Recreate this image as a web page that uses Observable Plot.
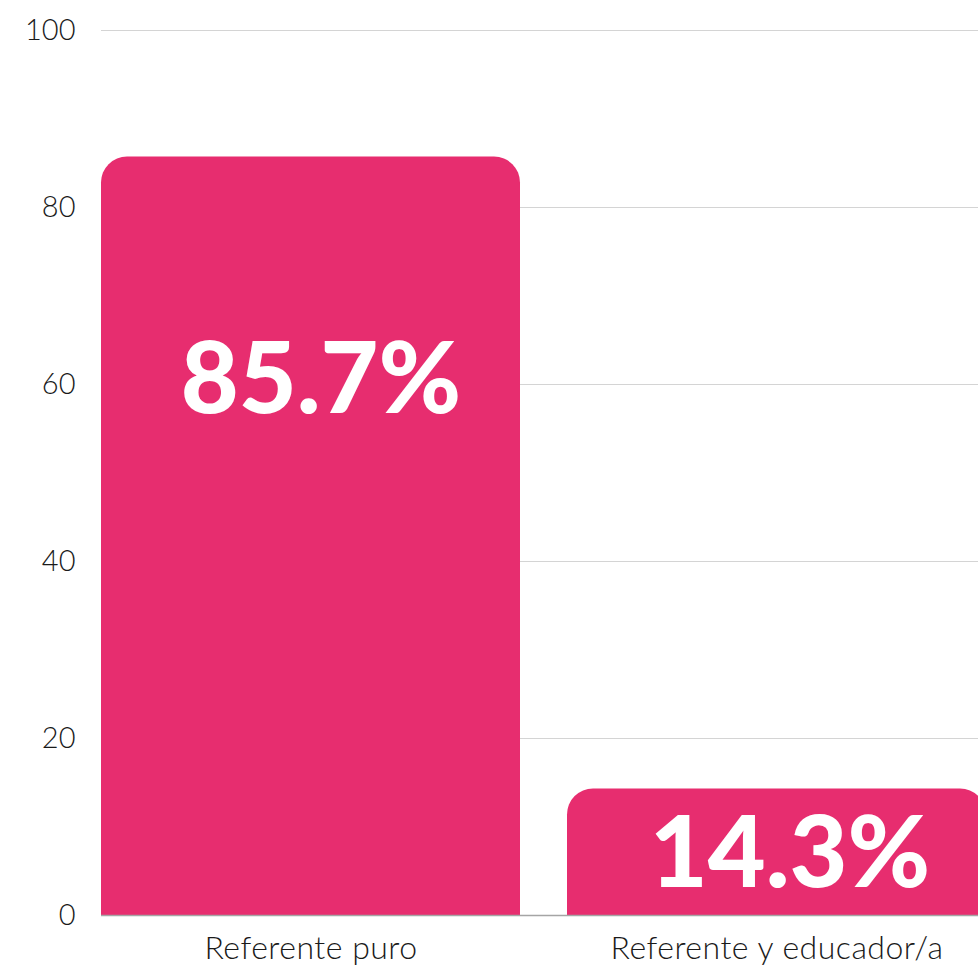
<!DOCTYPE html>
<html>
<head>
<meta charset="utf-8">
<script src="https://cdn.jsdelivr.net/npm/d3@7"></script>
<script src="https://cdn.jsdelivr.net/npm/@observablehq/plot@0.6"></script>
<style>
  html, body { margin: 0; padding: 0; background: #fff; overflow: hidden; }
  #chart { width: 978px; height: 968px; overflow: hidden; }
</style>
</head>
<body>
<div id="chart"></div>
<script>
const categories = ["Referente puro", "Referente y educador/a"];
const values = [85.7, 14.3];
const valueLabels = ["85.7%", "14.3%"];
const yTicks = [0, 20, 40, 60, 80, 100];

const data = categories.map((c, i) => ({category: c, value: values[i], label: valueLabels[i]}));

const plot = Plot.plot({
  width: 987,
  height: 968,
  marginLeft: 101,
  marginRight: 0,
  marginTop: 30,
  marginBottom: 53,
  style: {fontFamily: "Lato, sans-serif", background: "#fff", overflow: "visible", maxWidth: "none"},
  x: {domain: categories, paddingInner: 0.1, paddingOuter: 0, label: null, tickSize: 0, tickPadding: 21},
  y: {domain: [0, 100], ticks: yTicks, label: null, tickSize: 0, tickPadding: 26},
  marks: [
    Plot.gridY(yTicks, {stroke: "#d4d4d4", strokeOpacity: 1, strokeWidth: 1}),
    Plot.barY(data, {x: "category", y: "value", fill: "#e72d6f", ry1: 26}),
    Plot.ruleY([0], {stroke: "#a5a5a5", strokeWidth: 1.5}),
    Plot.text(data.slice(0, 1), {x: "category", y: "value", text: "label", dy: 224, dx: 10, fill: "#fff", fontSize: 100, fontWeight: 900}),
    Plot.text(data.slice(1), {x: "category", y: "value", text: "label", dy: 66, dx: 13, fill: "#fff", fontSize: 100, fontWeight: 900})
  ]
});

plot.querySelectorAll("[aria-label='y-axis tick label']").forEach(g => {
  g.setAttribute("font-size", 29);
  g.setAttribute("font-weight", 300);
  g.setAttribute("fill", "#1a1a1a");
});
plot.querySelectorAll("[aria-label='x-axis tick label']").forEach(g => {
  g.setAttribute("font-size", 32);
  g.setAttribute("font-weight", 300);
  g.setAttribute("fill", "#1a1a1a");
  g.setAttribute("letter-spacing", "0.5");
});
document.getElementById("chart").appendChild(plot);
</script>
</body>
</html>
